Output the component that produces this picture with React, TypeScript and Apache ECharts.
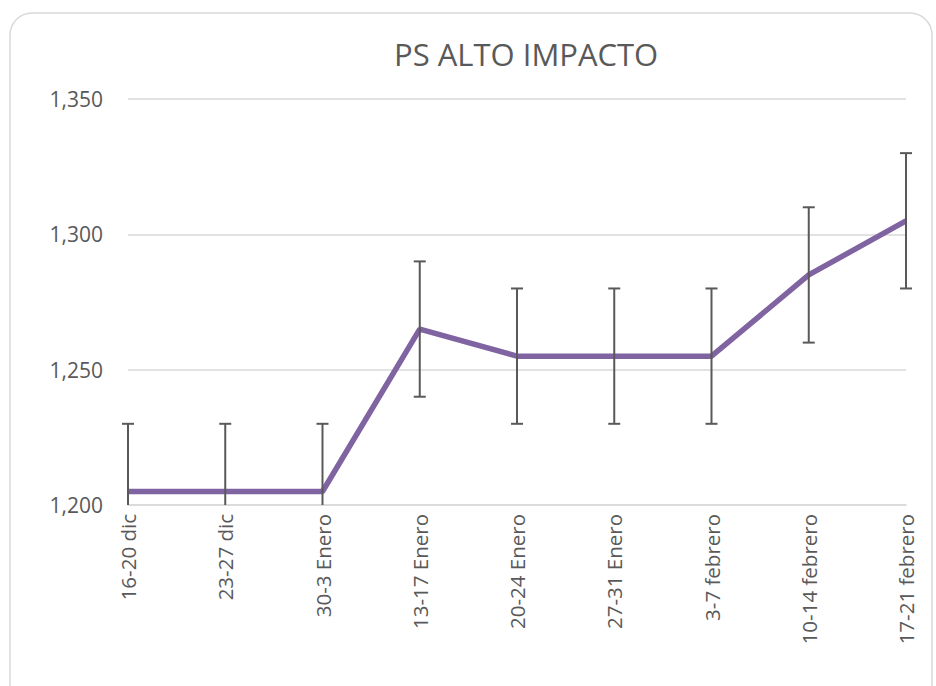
import React, { useEffect, useRef } from "react";
import * as echarts from "echarts";

const categories = [
  "16-20 dic",
  "23-27 dic",
  "30-3 Enero",
  "13-17 Enero",
  "20-24 Enero",
  "27-31 Enero",
  "3-7 febrero",
  "10-14 febrero",
  "17-21 febrero",
];
const values = [1205, 1205, 1205, 1265, 1255, 1255, 1255, 1285, 1305];
const errors = [25, 25, 25, 25, 25, 25, 25, 25, 25];
const yTicks = { min: 1200, max: 1350, interval: 50 };
const title = "PS ALTO IMPACTO";

export default function App() {
  const ref = useRef<HTMLDivElement>(null);
  useEffect(() => {
    if (!ref.current) return;
    const chart = echarts.init(ref.current, null, { renderer: "svg" });
    const errData = values.map((v, i) => [i, v - errors[i], v + errors[i]]);
    chart.setOption({
      animation: false,
      backgroundColor: "#ffffff",
      title: {
        text: title,
        left: 389,
        top: 33,
        textStyle: {
          fontFamily: "Open Sans",
          fontSize: 31,
          fontWeight: "normal",
          color: "#595959",
        },
      },
      graphic: [
        {
          type: "rect",
          shape: { x: 10, y: 13, width: 922, height: 700, r: 22 },
          style: { fill: "none", stroke: "#d9d9d9", lineWidth: 1.5 },
          silent: true,
        },
      ],
      grid: { left: 128, right: 30, top: 99, bottom: 181, containLabel: false },
      xAxis: {
        type: "category",
        data: categories,
        boundaryGap: false,
        axisLine: { lineStyle: { color: "#d9d9d9", width: 1.5 } },
        axisTick: { show: false },
        axisLabel: {
          rotate: 90,
          interval: 0,
          margin: 9,
          fontFamily: "Open Sans",
          fontSize: 20.5,
          color: "#595959",
        },
      },
      yAxis: {
        type: "value",
        min: yTicks.min,
        max: yTicks.max,
        interval: yTicks.interval,
        axisLine: { show: false },
        axisTick: { show: false },
        splitLine: { lineStyle: { color: "#d9d9d9", width: 1.5 } },
        axisLabel: {
          margin: 25,
          fontFamily: "Open Sans",
          fontSize: 21,
          color: "#595959",
          formatter: (v: number) => v.toLocaleString("en-US"),
        },
      },
      series: [
        {
          type: "line",
          data: values,
          symbol: "none",
          lineStyle: { color: "#8064a2", width: 5.5 },
          z: 3,
        },
        {
          type: "custom",
          data: errData,
          z: 4,
          renderItem: (params: any, api: any) => {
            const x = api.value(0);
            const lo = Math.max(api.value(1), yTicks.min);
            const hi = Math.min(api.value(2), yTicks.max);
            const pHi = api.coord([x, hi]);
            const pLo = api.coord([x, lo]);
            const cw = 6;
            const style = { stroke: "#595959", lineWidth: 2 };
            const children: any[] = [
              { type: "line", shape: { x1: pHi[0], y1: pHi[1], x2: pLo[0], y2: pLo[1] }, style },
            ];
            if (api.value(2) <= yTicks.max)
              children.push({ type: "line", shape: { x1: pHi[0] - cw, y1: pHi[1], x2: pHi[0] + cw, y2: pHi[1] }, style });
            if (api.value(1) >= yTicks.min)
              children.push({ type: "line", shape: { x1: pLo[0] - cw, y1: pLo[1], x2: pLo[0] + cw, y2: pLo[1] }, style });
            return { type: "group", children };
          },
        },
      ],
    });
    return () => chart.dispose();
  }, []);
  return (
    <div
      ref={ref}
      style={{ position: "absolute", left: 0, top: 0, width: 936, height: 686 }}
    />
  );
}
